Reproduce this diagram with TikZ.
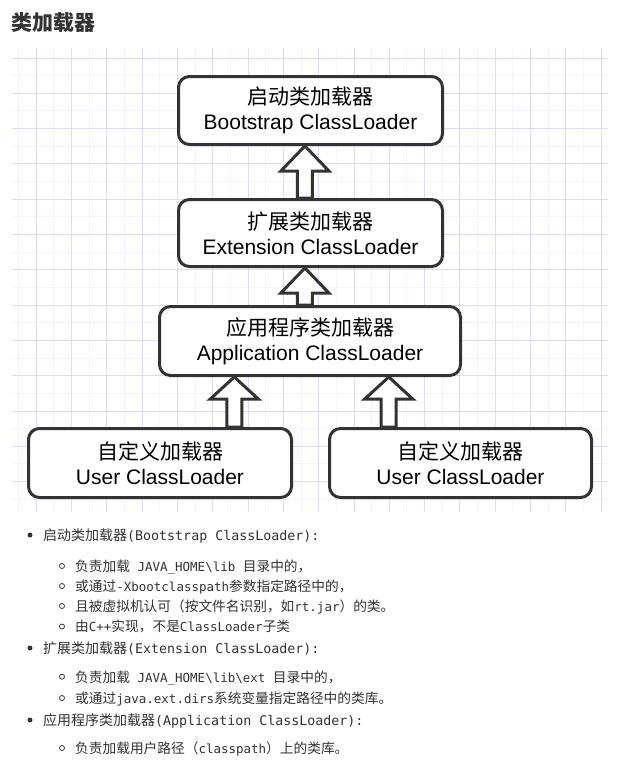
\documentclass[tikz,border=0pt]{standalone}
\usepackage{fontspec}
\setmainfont{Liberation Sans}
\newfontfamily\cjk{Noto Sans CJK SC}
\newfontfamily\monof{DejaVu Sans Mono}
\usetikzlibrary{calc}
\definecolor{edge}{HTML}{333333}
\definecolor{gmaj}{HTML}{DEDAFC}
\definecolor{gmin}{HTML}{F3F2FE}
\definecolor{txt}{HTML}{333333}
\newcommand\MB[1]{{\monof\fontsize{13.3}{16}\selectfont #1}}
\newcommand\MS[1]{{\monof\fontsize{12.5}{16}\selectfont #1}}
\newcommand\blockarr[3]{\draw[arr] let \p1=#1, \p2=#2 in
  (\x1,\y1) -- (\x1-24pt,\y1-#3pt) -- (\x1-7.5pt,\y1-#3pt) -- (\x1-7.5pt,\y2)
  -- (\x1+7.5pt,\y2) -- (\x1+7.5pt,\y1-#3pt) -- (\x1+24pt,\y1-#3pt) -- cycle;}
\begin{document}
\begin{tikzpicture}[x=1pt,y=-1pt,
  box/.style={draw=edge, line width=3pt, rounded corners=11pt, fill=white,
    align=center, inner sep=0pt, text=black, font=\fontsize{21}{25}\selectfont},
  arr/.style={draw=edge, line width=3pt, fill=white, line join=miter},
  li/.style={anchor=base west, inner sep=0pt, text=txt, font=\cjk\fontsize{14}{16}\selectfont},
  sli/.style={anchor=base west, inner sep=0pt, text=txt, font=\cjk\fontsize{13.7}{16}\selectfont},
  dot/.style={circle, fill=txt, inner sep=0pt, minimum size=5pt},
  odot/.style={circle, draw=txt, line width=0.8pt, inner sep=0pt, minimum size=5pt},
]
\useasboundingbox (0,0) rectangle (633,763);
\fill[white] (0,0) rectangle (633,763);
% grid
\foreach \k in {0,...,16} {
  \draw[gmin, line width=1pt] ({18.65+35.3*\k},48) -- ({18.65+35.3*\k},512);
}
\foreach \k in {0,...,12} {
  \draw[gmin, line width=1pt] (12,{75.65+35.3*\k}) -- (608,{75.65+35.3*\k});
}
\foreach \k in {0,...,16} {
  \draw[gmaj, line width=1pt] ({36.3+35.3*\k},48) -- ({36.3+35.3*\k},512);
}
\foreach \k in {0,...,12} {
  \draw[gmaj, line width=1pt] (12,{58+35.3*\k}) -- (608,{58+35.3*\k});
}
% title
\node[anchor=base west, inner sep=0pt, text=txt, font=\cjk\bfseries\fontsize{21}{24}\selectfont] (title) at (11,30) {类加载器};
% boxes
\node[box, minimum width=264pt, minimum height=68pt] (boot) at (310.5,110.5) {{\cjk 启动类加载器}\\Bootstrap ClassLoader};
\node[box, minimum width=264pt, minimum height=67pt] (ext) at (310.5,233) {{\cjk 扩展类加载器}\\Extension ClassLoader};
\node[box, minimum width=301pt, minimum height=69pt] (app) at (310,341) {{\cjk 应用程序类加载器}\\Application ClassLoader};
\node[box, minimum width=263pt, minimum height=69pt] (usr1) at (160,463) {{\cjk 自定义加载器}\\User ClassLoader};
\node[box, minimum width=262pt, minimum height=69pt] (usr2) at (460.5,463) {{\cjk 自定义加载器}\\User ClassLoader};
% arrows
\blockarr{($(boot.south west)!0.479!(boot.south east)$)}{(ext.north)}{25}
\blockarr{($(ext.south west)!0.479!(ext.south east)$)}{(app.north)}{25}
\blockarr{($(app.south west)!0.251!(app.south east)$)}{(usr1.north)}{22}
\blockarr{($(app.south west)!0.759!(app.south east)$)}{(usr2.north)}{22}
% list
\node[dot] (d1) at (30,535) {};
\node[li] (b1) at (43,540.3) {启动类加载器\MB{(Bootstrap ClassLoader):}};
\node[odot] (c1) at (62,566) {};
\node[sli] (s1) at (75,571.3) {负责加载\MS{\ JAVA\_HOME\textbackslash lib\ }目录中的，};
\node[odot] (c2) at (62,586) {};
\node[sli] (s2) at (75,591.3) {或通过\MS{-Xbootclasspath}参数指定路径中的，};
\node[odot] (c3) at (62,606) {};
\node[sli] (s3) at (75,611.3) {且被虚拟机认可（按文件名识别，如\MS{rt.jar}）的类。};
\node[odot] (c4) at (62,626.5) {};
\node[sli] (s4) at (75,631.8) {由\MS{C++}实现，不是\MS{ClassLoader}子类};
\node[dot] (d2) at (30,648) {};
\node[li] (b2) at (43,653.3) {扩展类加载器\MB{(Extension ClassLoader):}};
\node[odot] (c5) at (62,676.7) {};
\node[sli] (s5) at (75,682) {负责加载\MS{\ JAVA\_HOME\textbackslash lib\textbackslash ext\ }目录中的，};
\node[odot] (c6) at (62,698) {};
\node[sli] (s6) at (75,703.3) {或通过\MS{java.ext.dirs}系统变量指定路径中的类库。};
\node[dot] (d3) at (30,720) {};
\node[li] (b3) at (43,725.3) {应用程序类加载器\MB{(Application ClassLoader):}};
\node[odot] (c7) at (62,748) {};
\node[sli] (s7) at (75,753.3) {负责加载用户路径（\MS{classpath}）上的类库。};
\end{tikzpicture}
\end{document}
